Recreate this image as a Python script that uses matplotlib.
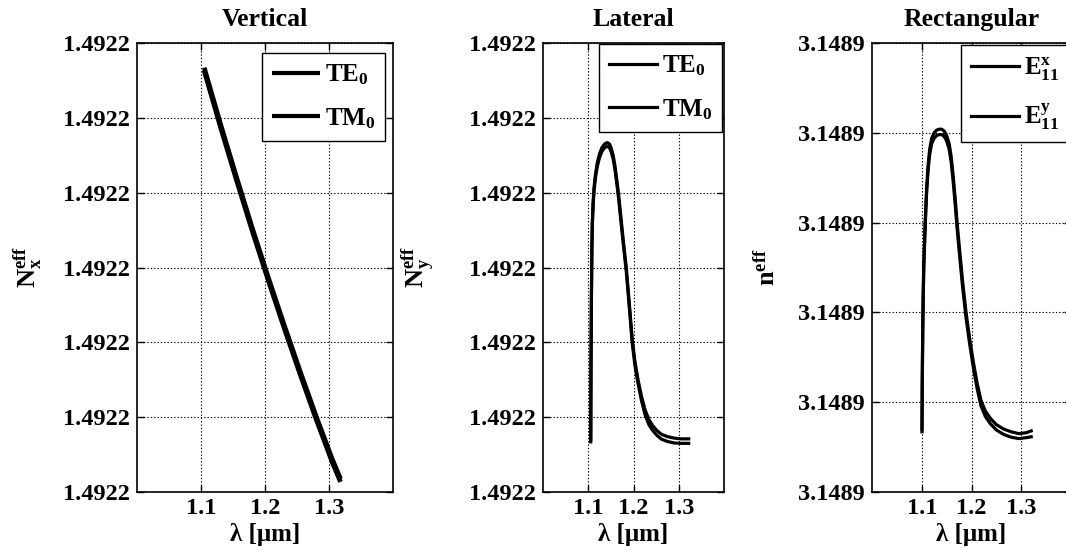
import numpy as np
import matplotlib
matplotlib.use("Agg")
import matplotlib.pyplot as plt
from matplotlib.ticker import FormatStrFormatter

plt.rcParams['font.family'] = ['Liberation Serif', 'DejaVu Serif']
plt.rcParams['font.weight'] = 'bold'
plt.rcParams['mathtext.fontset'] = 'custom'
plt.rcParams['mathtext.rm'] = 'Liberation Serif:bold'
plt.rcParams['mathtext.bf'] = 'Liberation Serif:bold'
plt.rcParams['mathtext.it'] = 'Liberation Serif:bold'

# Effective indices are tabulated as n = base + dn * 1e-6

# ---- Vertical slab ----
N0_VERT = 1.4922
wl_vert = [1.105, 1.13, 1.155, 1.18, 1.205, 1.23, 1.255, 1.28, 1.305, 1.318]
te_vert_dn = [22.68, 19.72, 16.88, 14.12, 11.48, 8.92, 6.44, 4.04, 1.76, 0.70]
tm_vert_dn = [22.52, 19.56, 16.72, 13.96, 11.32, 8.76, 6.28, 3.88, 1.60, 0.54]

# ---- Lateral slab ----
N0_LAT = 1.4922
wl_lat = [1.1055, 1.106, 1.107, 1.108, 1.109, 1.111, 1.113, 1.116, 1.120,
          1.125, 1.130, 1.136, 1.142, 1.147, 1.151, 1.155, 1.159, 1.162,
          1.165, 1.168, 1.172, 1.178, 1.184, 1.191, 1.197, 1.203, 1.210,
          1.218, 1.226, 1.234, 1.242, 1.252, 1.262, 1.275, 1.290, 1.305, 1.322]
te_lat_dn = [2.68, 6.4, 10.4, 13.0, 14.4, 15.6, 16.32, 17.0, 17.6,
             18.08, 18.4, 18.6, 18.68, 18.6, 18.36, 18.0, 17.44, 16.88,
             16.32, 15.68, 14.72, 13.32, 12.0, 10.0, 8.2, 7.0, 6.0,
             5.08, 4.36, 3.88, 3.56, 3.28, 3.08, 2.96, 2.88, 2.84, 2.84]
tm_lat_dn = [2.8, 6.4, 10.4, 13.0, 14.3, 15.45, 16.15, 16.8, 17.4,
             17.88, 18.2, 18.4, 18.48, 18.4, 18.16, 17.8, 17.24, 16.68,
             16.12, 15.48, 14.52, 13.12, 11.8, 9.8, 8.0, 6.8, 5.8,
             4.85, 4.1, 3.6, 3.3, 3.02, 2.82, 2.7, 2.62, 2.6, 2.6]

# ---- Rectangular waveguide ----
N0_RECT = 3.1489
wl_rect = [1.1005, 1.101, 1.102, 1.103, 1.104, 1.106, 1.108, 1.110, 1.113,
           1.116, 1.120, 1.125, 1.130, 1.135, 1.140, 1.145, 1.150, 1.155,
           1.159, 1.163, 1.167, 1.171, 1.176, 1.182, 1.189, 1.196, 1.203,
           1.211, 1.219, 1.228, 1.238, 1.250, 1.265, 1.280, 1.295, 1.310, 1.320]
ex_rect_dn = [2.68, 4.8, 7.2, 8.8, 10.0, 11.4, 12.6, 13.6, 14.6,
              15.28, 15.76, 16.0, 16.12, 16.16, 16.16, 16.08, 15.88, 15.52,
              14.96, 14.12, 13.12, 12.0, 10.8, 9.4, 8.0, 6.88, 5.88,
              4.88, 4.08, 3.6, 3.28, 3.0, 2.8, 2.68, 2.6, 2.64, 2.72]
ey_rect_dn = [2.8, 4.8, 7.2, 8.8, 10.0, 11.3, 12.45, 13.45, 14.4,
              15.05, 15.52, 15.76, 15.88, 15.92, 15.92, 15.84, 15.64, 15.28,
              14.72, 13.88, 12.88, 11.76, 10.56, 9.16, 7.76, 6.64, 5.64,
              4.64, 3.84, 3.36, 3.04, 2.76, 2.56, 2.44, 2.38, 2.42, 2.46]

x_ticks = [1.1, 1.2, 1.3]
y_ticks_vert = [1.492200, 1.492204, 1.492208, 1.492212, 1.492216, 1.492220, 1.492224]
y_ticks_lat = [1.492200, 1.492204, 1.492208, 1.492212, 1.492216, 1.492220, 1.492224]
y_ticks_rect = [3.148900, 3.148904, 3.148908, 3.148912, 3.148916, 3.148920]


def neff(base, dn):
    return base + np.asarray(dn) * 1e-6


W, H = 1066, 556
fig = plt.figure(figsize=(W / 100, H / 100), dpi=100)


def px_axes(left, right, top, bottom):
    return fig.add_axes([left / W, 1 - bottom / H, (right - left) / W, (bottom - top) / H])


def style(ax, yticks, title, ylabel, ylab_x):
    ax.set_xlim(1.0, 1.4)
    ax.set_ylim(yticks[0], yticks[-1])
    ax.set_xticks(x_ticks)
    ax.set_yticks(yticks)
    ax.xaxis.set_major_formatter(FormatStrFormatter('%.1f'))
    ax.yaxis.set_major_formatter(FormatStrFormatter('%.4f'))
    ax.tick_params(direction='in', length=5, width=1, labelsize=17.5, pad=5,
                   top=True, right=True)
    ax.tick_params(axis='x', pad=4)
    ax.grid(True, color='black', linestyle=(0, (1.2, 1.8)), linewidth=0.8)
    for s in ax.spines.values():
        s.set_linewidth(1.2)
        s.set_color('black')
    ax.set_title(title, fontsize=18.5, fontweight='bold', pad=12)
    ax.set_xlabel('λ [μm]', fontsize=18, fontweight='bold', labelpad=3)
    ax.set_ylabel(ylabel, fontsize=19)
    ax.yaxis.set_label_coords(ylab_x, 0.5)


def legend(ax, anchor, lw):
    leg = ax.legend(loc='upper right', bbox_to_anchor=anchor, fontsize=18,
                    handlelength=1.9, handletextpad=0.2, labelspacing=0.75,
                    borderpad=0.4, borderaxespad=0.0, fancybox=False,
                    edgecolor='black', framealpha=1)
    leg.get_frame().set_linewidth(1.0)
    for h in leg.get_lines():
        h.set_linewidth(lw)


ax1 = px_axes(137, 393, 43, 492)
ax1.plot(wl_vert, neff(N0_VERT, te_vert_dn), color='black', lw=3.4,
         solid_capstyle='butt', label=r'$\mathbf{TE}_{\mathbf{0}}$')
ax1.plot(wl_vert, neff(N0_VERT, tm_vert_dn), color='black', lw=3.4,
         solid_capstyle='butt', label=r'$\mathbf{TM}_{\mathbf{0}}$')
style(ax1, y_ticks_vert, 'Vertical', r'$\mathbf{N_x^{eff}}$', -0.365)
legend(ax1, (0.97, 0.978), 3.0)

ax2 = px_axes(543, 724, 43, 492)
ax2.plot(wl_lat, neff(N0_LAT, te_lat_dn), color='black', lw=2.3,
         label=r'$\mathbf{TE}_{\mathbf{0}}$')
ax2.plot(wl_lat, neff(N0_LAT, tm_lat_dn), color='black', lw=2.3,
         label=r'$\mathbf{TM}_{\mathbf{0}}$')
style(ax2, y_ticks_lat, 'Lateral', r'$\mathbf{N_y^{eff}}$', -0.585)
legend(ax2, (0.99, 0.998), 2.3)

ax3 = px_axes(872, 1071, 43, 492)
ax3.plot(wl_rect, neff(N0_RECT, ex_rect_dn), color='black', lw=2.3,
         label=r'$\mathbf{E}_{\mathbf{11}}^{\mathbf{x}}$')
ax3.plot(wl_rect, neff(N0_RECT, ey_rect_dn), color='black', lw=2.3,
         label=r'$\mathbf{E}_{\mathbf{11}}^{\mathbf{y}}$')
style(ax3, y_ticks_rect, 'Rectangular', r'$\mathbf{n^{eff}}$', -0.465)
legend(ax3, (0.99, 0.995), 2.3)

fig.savefig('out.png', dpi=100)
